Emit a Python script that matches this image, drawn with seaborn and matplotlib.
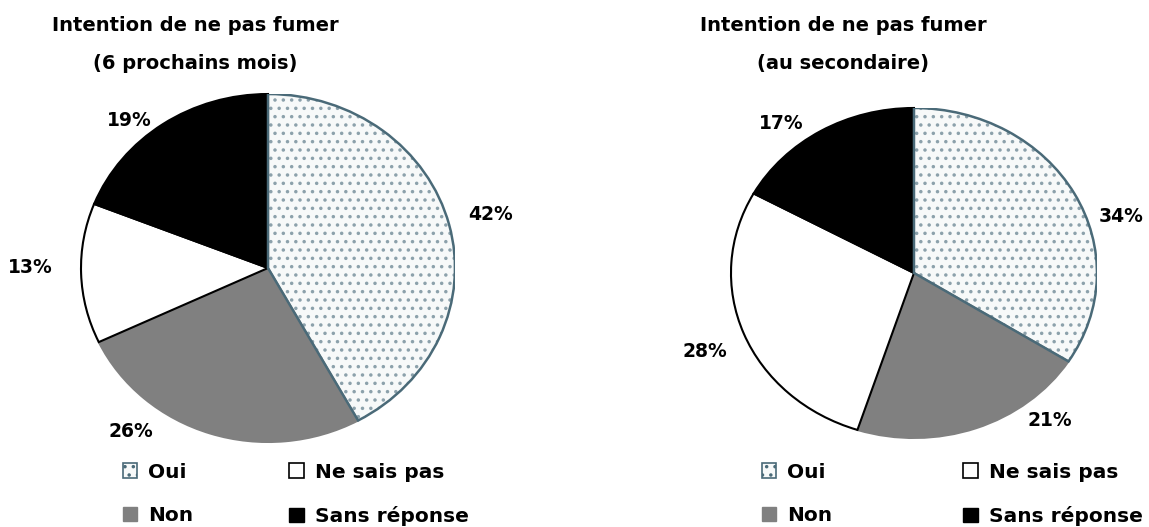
import matplotlib
matplotlib.use("Agg")
import matplotlib.pyplot as plt
import seaborn as sns
import numpy as np
from matplotlib.patches import Patch, Wedge

# ----- Données -----
categories = ["Oui", "Non", "Ne sais pas", "Sans réponse"]
mois_vals = [42, 26, 13, 19]
secondaire_vals = [34, 21, 28, 17]
titres = ["Intention de ne pas fumer\n(6 prochains mois)",
          "Intention de ne pas fumer\n(au secondaire)"]

sns.set_theme(style="white")
plt.rcParams['font.family'] = ['DejaVu Sans']
plt.rcParams['hatch.linewidth'] = 1.3
plt.rcParams['text.color'] = 'black'

couleurs = ["#f7f9f9", "#808080", "#ffffff", "#000000"]
bords = ["none", "#808080", "#000000", "#000000"]
bord_oui = "#4a6a78"
points_oui = "#8ca1ab"

fig = plt.figure(figsize=(11.49, 5.27), dpi=100)

# position des axes (gauche, bas, largeur, hauteur) pour chaque tarte
boites = [[0.0705, 0.1613, 0.3255, 0.6603], [0.6362, 0.1689, 0.3185, 0.6262]]
titre_x = [0.170, 0.734]
legende_x = [0.091, 0.647]
espacement_col = [4.75, 6.5]
# décalage angulaire (degrés) et distance des étiquettes, comme dans l'original
decal_etiq = [[0, -20, -2, 7], [-12, 20, 1, 8]]
dist_etiq = [[1.23, 1.19, 1.27, 1.13], [1.18, 1.16, 1.24, 1.16]]


def tarte(ax, vals, titre, tx, lx, cs, decal, dist):
    wedges, _, autotexts = ax.pie(vals, colors=couleurs, startangle=90, counterclock=False,
                                  autopct='%d%%', pctdistance=1.2, radius=1,
                                  wedgeprops=dict(linewidth=1.5),
                                  textprops=dict(fontsize=13.5, fontweight='bold', color='black'))
    for w, b in zip(wedges, bords):
        w.set_edgecolor(b)
    # repositionner les pourcentages
    for w, t, d, r in zip(wedges, autotexts, decal, dist):
        a = np.deg2rad((w.theta1 + w.theta2) / 2 + d)
        t.set_position((r * np.cos(a), r * np.sin(a)))
    # tranche "Oui" en pointillés
    oui = wedges[0]
    oui.set_hatch('..')
    oui.set_edgecolor(points_oui)
    oui.set_linewidth(0)
    contour = Wedge(oui.center, oui.r, oui.theta1, oui.theta2, fill=False,
                    edgecolor=bord_oui, linewidth=1.8)
    ax.add_patch(contour)
    ax.set_aspect('auto')
    ax.set_xlim(-1, 1)
    ax.set_ylim(-1, 1)
    ax.axis('off')
    fig.text(tx, 0.97, titre, ha='center', va='top', fontsize=14,
             fontweight='bold', linespacing=2.25, color='black')
    handles = [Patch(facecolor=couleurs[0], edgecolor=bord_oui, hatch='..', linewidth=1.2),
               Patch(facecolor=couleurs[1], edgecolor=couleurs[1]),
               Patch(facecolor=couleurs[2], edgecolor='black', linewidth=1.2),
               Patch(facecolor=couleurs[3], edgecolor='black')]
    fig.legend(handles, categories, ncol=2, loc='lower left', bbox_to_anchor=(lx, -0.032),
               frameon=False, prop=dict(size=14.5, weight='bold'), labelcolor='black',
               handlelength=0.72, handleheight=0.72, handletextpad=0.55, columnspacing=cs,
               labelspacing=1.2)


ax1 = fig.add_axes(boites[0])
tarte(ax1, mois_vals, titres[0], titre_x[0], legende_x[0], espacement_col[0],
      decal_etiq[0], dist_etiq[0])
ax2 = fig.add_axes(boites[1])
tarte(ax2, secondaire_vals, titres[1], titre_x[1], legende_x[1], espacement_col[1],
      decal_etiq[1], dist_etiq[1])

plt.savefig("out.png", dpi=100)
